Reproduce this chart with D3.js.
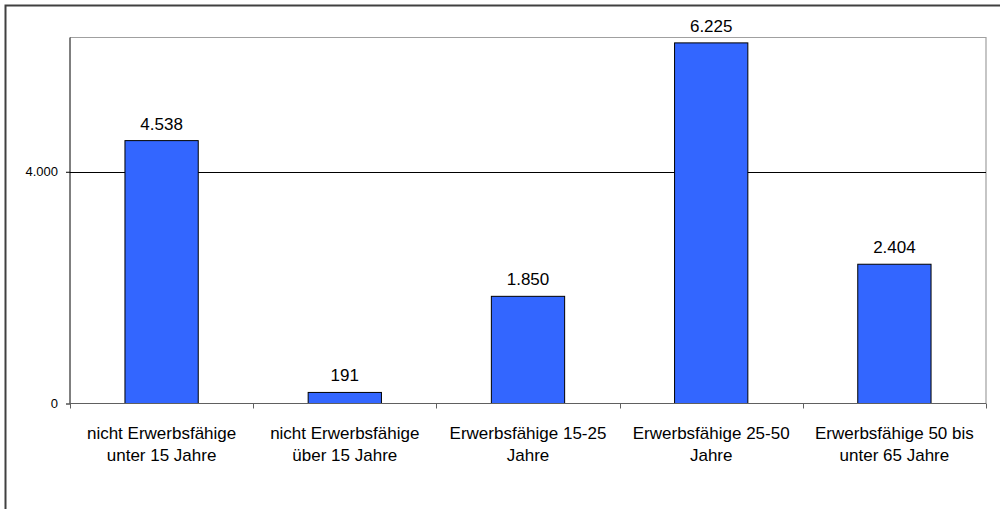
<!DOCTYPE html>
<html>
<head>
<meta charset="utf-8">
<script src="https://cdn.jsdelivr.net/npm/d3@7"></script>
<style>
  html, body { margin: 0; padding: 0; background: #fff; }
  svg { display: block; }
  text { font-family: "Liberation Sans", Arial, sans-serif; fill: #000; }
</style>
</head>
<body>
<svg id="chart" width="1000" height="509"></svg>
<script>
const categories = [
  ["nicht Erwerbsfähige", "unter 15 Jahre"],
  ["nicht Erwerbsfähige", "über 15 Jahre"],
  ["Erwerbsfähige 15-25", "Jahre"],
  ["Erwerbsfähige 25-50", "Jahre"],
  ["Erwerbsfähige 50 bis", "unter 65 Jahre"]
];
const values = [4538, 191, 1850, 6225, 2404];
const valueLabels = ["4.538", "191", "1.850", "6.225", "2.404"];
const yTicks = [0, 4000];
const yTickLabels = ["0", "4.000"];
const yMax = 6318;

const svg = d3.select("#chart");
const plot = { left: 70, right: 986, top: 37.5, bottom: 403.5 };

// outer chart border
svg.append("rect")
  .attr("x", 5.5).attr("y", 5.5)
  .attr("width", 1000).attr("height", 520)
  .attr("fill", "none").attr("stroke", "#404040").attr("stroke-width", 2);

const x = d3.scaleBand()
  .domain(d3.range(categories.length))
  .range([plot.left, plot.right])
  .paddingInner(0.6).paddingOuter(0.3);

const y = d3.scaleLinear().domain([0, yMax]).range([plot.bottom, plot.top]);

// plot area border (top and right in gray)
svg.append("path")
  .attr("d", `M${plot.left},${plot.top}H${plot.right}V${plot.bottom}`)
  .attr("fill", "none").attr("stroke", "#a0a0a0").attr("stroke-width", 1.2);

// gridlines
svg.append("g").selectAll("line")
  .data(yTicks.filter(d => d > 0))
  .join("line")
  .attr("x1", plot.left).attr("x2", plot.right)
  .attr("y1", d => Math.round(y(d)) + 0.5).attr("y2", d => Math.round(y(d)) + 0.5)
  .attr("stroke", "#000").attr("stroke-width", 1);

// bars
svg.append("g").selectAll("rect")
  .data(values)
  .join("rect")
  .attr("x", (d, i) => x(i))
  .attr("y", d => y(d))
  .attr("width", x.bandwidth())
  .attr("height", d => y(0) - y(d))
  .attr("fill", "#3366FF")
  .attr("stroke", "#000").attr("stroke-width", 1);

// value labels
svg.append("g").selectAll("text")
  .data(values)
  .join("text")
  .attr("x", (d, i) => x(i) + x.bandwidth() / 2)
  .attr("y", d => y(d) - 11)
  .attr("text-anchor", "middle")
  .attr("font-size", 17)
  .text((d, i) => valueLabels[i]);

// y axis
const yAxis = d3.axisLeft(y)
  .tickValues(yTicks)
  .tickFormat((d, i) => yTickLabels[i])
  .tickSize(4).tickPadding(8);
const gy = svg.append("g")
  .attr("transform", `translate(${plot.left},0)`)
  .call(yAxis);
gy.select(".domain").attr("d", `M0,${plot.top}V${plot.bottom}`).attr("stroke", "#000");
gy.selectAll(".tick line").attr("stroke", "#000");
gy.selectAll(".tick text").attr("font-size", 13).attr("font-family", "Liberation Sans, Arial, sans-serif").attr("fill", "#000");

// x axis (category boundaries ticks)
const step = x.step();
const boundaries = d3.range(categories.length + 1).map(i => plot.left + i * (plot.right - plot.left) / categories.length);
svg.append("line")
  .attr("x1", plot.left).attr("x2", plot.right)
  .attr("y1", plot.bottom).attr("y2", plot.bottom)
  .attr("stroke", "#606060").attr("stroke-width", 1.2);
svg.append("g").selectAll("line")
  .data(boundaries)
  .join("line")
  .attr("x1", d => Math.round(d) + 0.5).attr("x2", d => Math.round(d) + 0.5)
  .attr("y1", plot.bottom).attr("y2", plot.bottom + 5)
  .attr("stroke", "#606060");

// category labels
const cl = svg.append("g").selectAll("text")
  .data(categories)
  .join("text")
  .attr("text-anchor", "middle")
  .attr("font-size", 17)
  .attr("x", (d, i) => x(i) + x.bandwidth() / 2)
  .attr("y", 438.5);
cl.selectAll("tspan")
  .data(d => d)
  .join("tspan")
  .attr("x", function() { return this.parentNode.getAttribute("x"); })
  .attr("dy", (d, j) => j === 0 ? 0 : 22)
  .text(d => d);
</script>
</body>
</html>
